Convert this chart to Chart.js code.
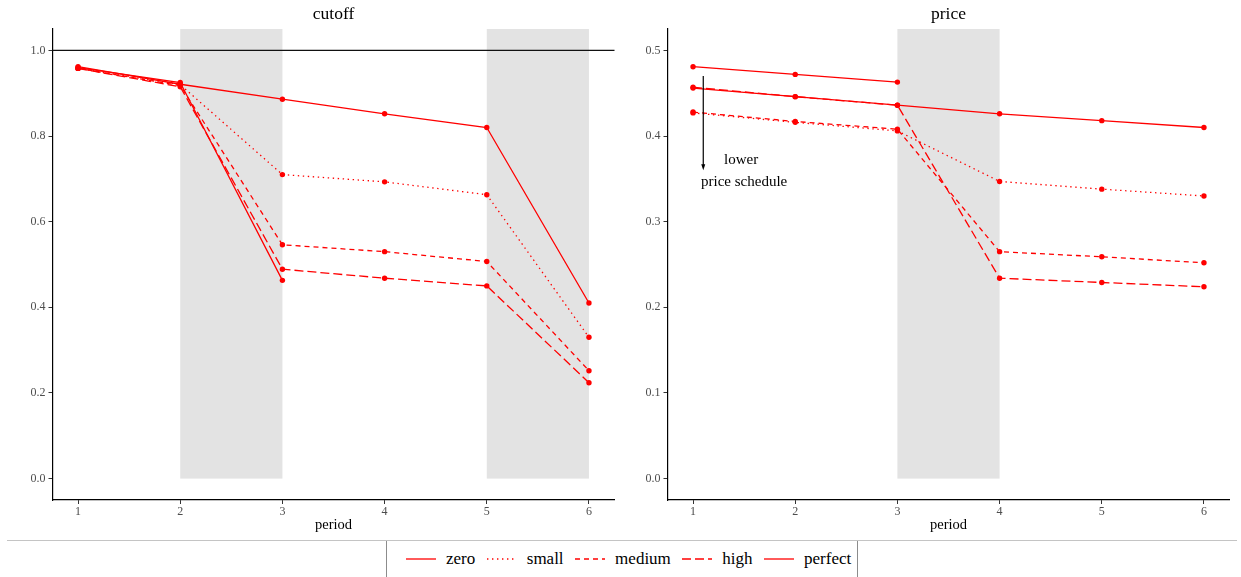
<!DOCTYPE html>
<html>
<head>
<meta charset="utf-8">
<script src="https://cdn.jsdelivr.net/npm/chart.js@4/dist/chart.umd.min.js"></script>
<style>
  body { margin: 0; background: #fff; }
  #wrap { position: relative; width: 1241px; height: 577px; overflow: hidden; font-family: "Liberation Serif", "Times New Roman", serif; }
  #cutoffChart { position: absolute; left: 0; top: 0; }
  #priceChart { position: absolute; left: 620px; top: 0; }
  #rule { position: absolute; left: 7px; top: 540px; width: 1230px; height: 0; border-top: 1px solid #c4c4c4; }
  #legend {
    position: absolute; left: 386px; top: 541px; width: 472px; height: 36px;
    border-left: 1px solid #8c8c8c; border-right: 1px solid #8c8c8c;
    display: flex; align-items: center; padding-left: 19px; box-sizing: border-box;
    font-size: 17px; color: #000;
  }
  #legend .item { display: flex; align-items: center; margin-right: 11.5px; }
  #legend svg { margin-right: 10px; }
</style>
</head>
<body>
<div id="wrap">
  <canvas id="cutoffChart" width="620" height="540"></canvas>
  <canvas id="priceChart" width="621" height="540"></canvas>
  <div id="rule"></div>
  <div id="legend"></div>
</div>
<script>
const periods = [1, 2, 3, 4, 5, 6];
const seriesNames = ["zero", "small", "medium", "high", "perfect"];

// cutoff panel
const cutoffZero    = [0.962, 0.921, 0.886, 0.852, 0.820, 0.410];
const cutoffSmall   = [0.958, 0.920, 0.710, 0.693, 0.663, 0.330];
const cutoffMedium  = [0.958, 0.918, 0.546, 0.530, 0.507, 0.252];
const cutoffHigh    = [0.958, 0.915, 0.489, 0.468, 0.450, 0.224];
const cutoffPerfect = [0.960, 0.925, 0.463, null, null, null];

// price panel
const priceZero    = [0.456, 0.446, 0.436, 0.426, 0.418, 0.410];
const priceSmall   = [0.427, 0.416, 0.406, 0.347, 0.338, 0.330];
const priceMedium  = [0.428, 0.417, 0.408, 0.265, 0.259, 0.252];
const priceHigh    = [0.457, 0.446, 0.436, 0.234, 0.229, 0.224];
const pricePerfect = [0.481, 0.472, 0.463, null, null, null];

const cutoffTicks = [0, 0.2, 0.4, 0.6, 0.8, 1.0];
const priceTicks = [0, 0.1, 0.2, 0.3, 0.4, 0.5];

// shaded period ranges
const cutoffShaded = [[2, 3], [5, 6]];
const priceShaded = [[3, 4]];

const red = "#ff0000";
const serif = "'Liberation Serif', 'Times New Roman', serif";
const dashes = { zero: [], small: [1.4, 3.6], medium: [5, 4], high: [9, 4], perfect: [] };

function makeDecor(spans, hline, note) {
  return {
    id: "panelDecor",
    beforeDatasetsDraw(chart) {
      const { ctx, chartArea: area, scales: { x, y } } = chart;
      ctx.save();
      ctx.fillStyle = "#e3e3e3";
      for (const [a, b] of spans) {
        const x0 = x.getPixelForValue(a);
        const x1 = x.getPixelForValue(b);
        const y0 = y.getPixelForValue(0);
        ctx.fillRect(x0, area.top, x1 - x0, y0 - area.top);
      }
      if (hline != null) {
        const yy = y.getPixelForValue(hline);
        ctx.strokeStyle = "#111";
        ctx.lineWidth = 1.1;
        ctx.beginPath();
        ctx.moveTo(area.left, yy);
        ctx.lineTo(area.right, yy);
        ctx.stroke();
      }
      ctx.restore();
    },
    afterDatasetsDraw(chart) {
      if (!note) return;
      const { ctx, scales: { x, y } } = chart;
      const ax = x.getPixelForValue(note.arrow[0]);
      const ay0 = y.getPixelForValue(note.arrow[1]);
      const ay1 = y.getPixelForValue(note.arrow[2]);
      ctx.save();
      ctx.strokeStyle = "#000";
      ctx.fillStyle = "#000";
      ctx.lineWidth = 1.2;
      ctx.beginPath();
      ctx.moveTo(ax, ay0);
      ctx.lineTo(ax, ay1 - 4);
      ctx.stroke();
      ctx.beginPath();
      ctx.moveTo(ax, ay1);
      ctx.lineTo(ax - 2, ay1 - 6);
      ctx.lineTo(ax + 2, ay1 - 6);
      ctx.closePath();
      ctx.fill();
      ctx.font = "15px " + serif;
      ctx.textAlign = "center";
      ctx.textBaseline = "middle";
      const tx = x.getPixelForValue(note.text[0]);
      const ty = y.getPixelForValue(note.text[1]);
      ctx.fillText(note.lines[0], tx - 3, ty - 11.2);
      ctx.fillText(note.lines[1], tx, ty + 11.2);
      ctx.restore();
    }
  };
}

function makePanel(canvasId, title, values, yTicks, yMin, yMax, yAxisWidth, padRight, decor) {
  const ctx = document.getElementById(canvasId).getContext("2d");
  return new Chart(ctx, {
    type: "line",
    data: {
      datasets: seriesNames.map((name, i) => ({
        label: name,
        data: periods.map((p, j) => ({ x: p, y: values[i][j] })),
        borderColor: red,
        backgroundColor: red,
        borderWidth: 1.3,
        borderDash: dashes[name],
        pointRadius: 2.7,
        pointBorderWidth: 0,
        pointBackgroundColor: red,
        spanGaps: false,
        tension: 0
      }))
    },
    options: {
      responsive: false,
      animation: false,
      layout: { padding: { left: 0, right: padRight, top: 0, bottom: 0 } },
      plugins: {
        legend: { display: false },
        tooltip: { enabled: false },
        title: {
          display: true,
          text: title,
          fullSize: false,
          color: "#000",
          font: { family: serif, size: 17.5, weight: "normal" },
          padding: { top: 4, bottom: 4 }
        }
      },
      scales: {
        x: {
          type: "linear",
          min: 0.75,
          max: 6.25,
          afterBuildTicks: (ax) => { ax.ticks = periods.map(v => ({ value: v })); },
          afterFit: (ax) => { ax.height = 40; },
          ticks: { color: "#4d4d4d", font: { family: serif, size: 12 }, padding: 1, callback: v => String(v) },
          grid: { drawOnChartArea: false, tickLength: 4, color: "#333" },
          border: { color: "#000", width: 1.2 },
          title: { display: true, text: "period", color: "#000", font: { family: serif, size: 14.5 }, padding: { top: 0, bottom: 6 } }
        },
        y: {
          type: "linear",
          min: yMin,
          max: yMax,
          afterBuildTicks: (ax) => { ax.ticks = yTicks.map(v => ({ value: v })); },
          afterFit: (ax) => { ax.width = yAxisWidth; },
          ticks: { color: "#4d4d4d", font: { family: serif, size: 12 }, padding: 3, callback: v => v.toFixed(1) },
          grid: { drawOnChartArea: false, tickLength: 4, color: "#333" },
          border: { color: "#000", width: 1.2 }
        }
      }
    },
    plugins: [decor]
  });
}

makePanel("cutoffChart", "cutoff",
  [cutoffZero, cutoffSmall, cutoffMedium, cutoffHigh, cutoffPerfect],
  cutoffTicks, -0.05, 1.05, 52.5, 5.5,
  makeDecor(cutoffShaded, 1.0, null));

makePanel("priceChart", "price",
  [priceZero, priceSmall, priceMedium, priceHigh, pricePerfect],
  priceTicks, -0.025, 0.525, 47.5, 11.5,
  makeDecor(priceShaded, null, {
    arrow: [1.1, 0.47, 0.36],
    text: [1.5, 0.359],
    lines: ["lower", "price schedule"]
  }));

// legend
const legendEl = document.getElementById("legend");
for (const name of seriesNames) {
  const item = document.createElement("div");
  item.className = "item";
  const dash = dashes[name].length ? dashes[name].join(" ") : "none";
  item.innerHTML =
    '<svg width="30" height="10"><line x1="0" y1="5" x2="30" y2="5" stroke="' + red +
    '" stroke-width="1.3" stroke-dasharray="' + dash + '"/></svg><span>' + name + "</span>";
  legendEl.appendChild(item);
}
</script>
</body>
</html>
